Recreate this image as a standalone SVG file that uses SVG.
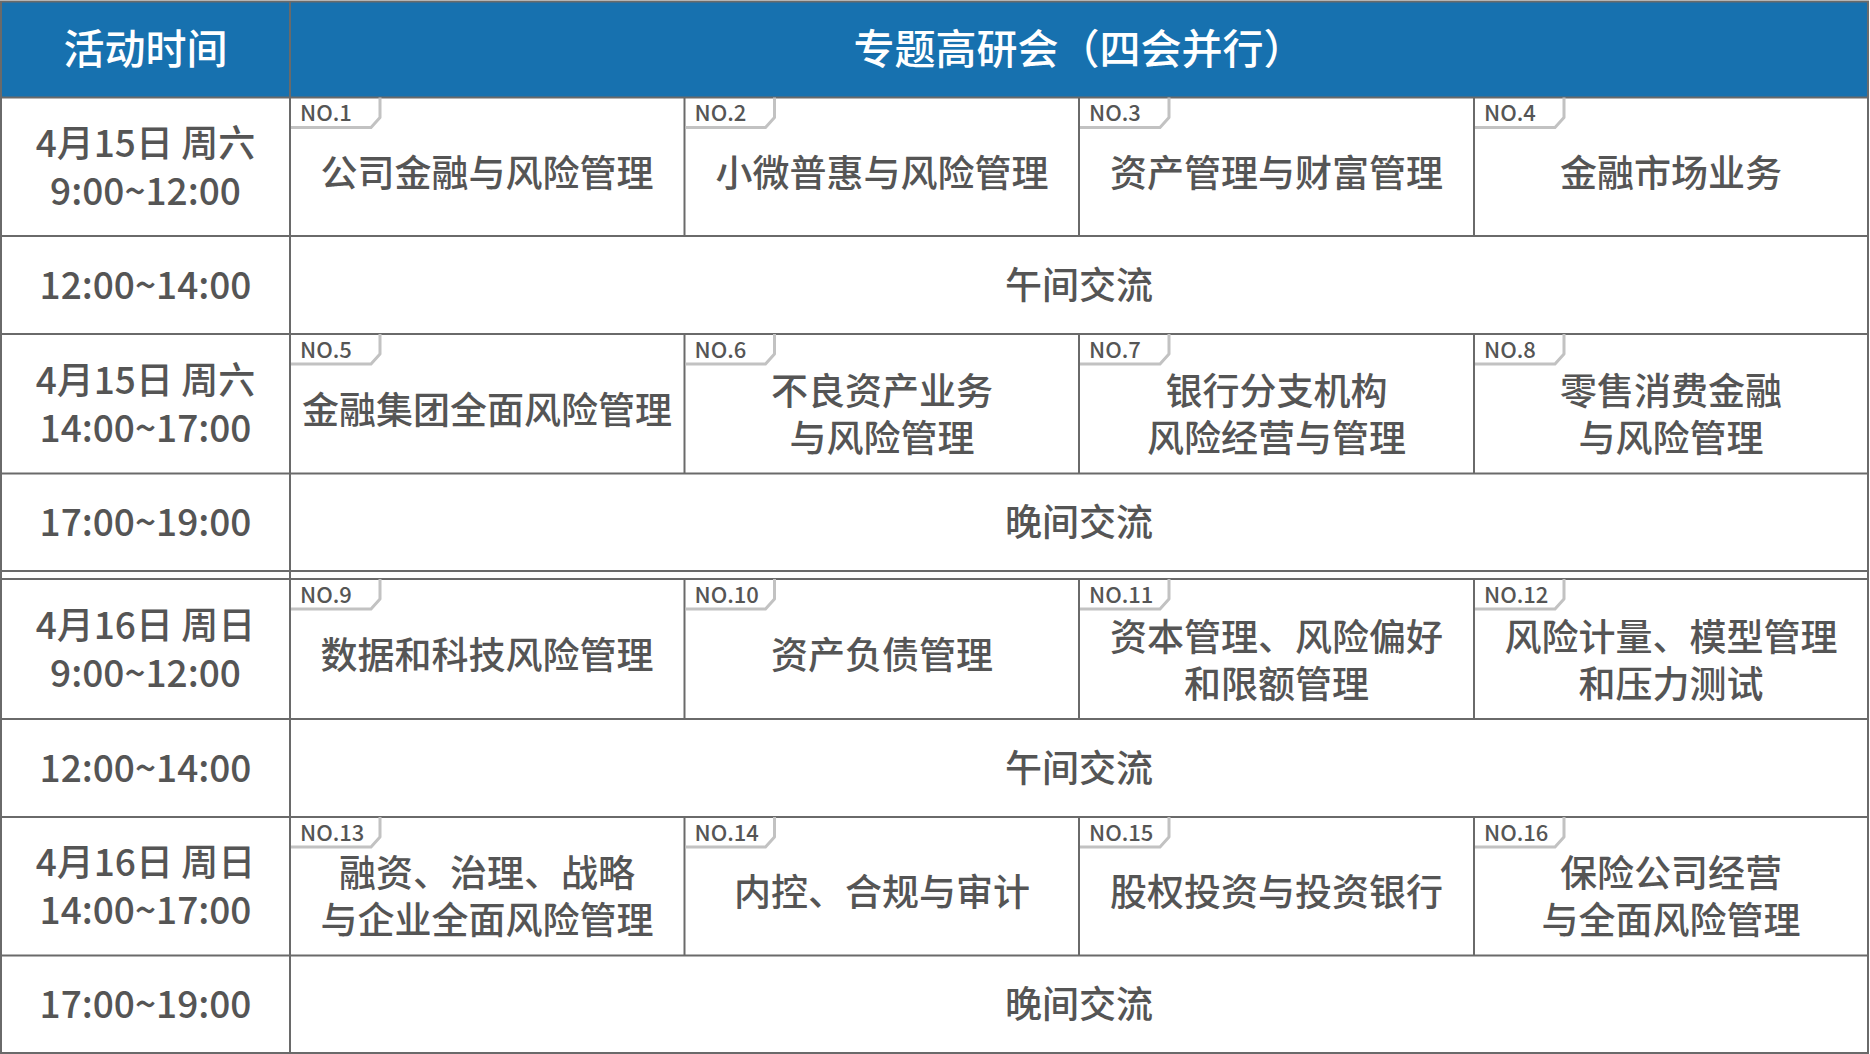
<svg xmlns="http://www.w3.org/2000/svg" xmlns:xlink="http://www.w3.org/1999/xlink" width="1870" height="1054" viewBox="0 0 1870 1054">
<style>
.hd{font-family:"Noto Sans CJK SC","Noto Sans",sans-serif;font-size:41px;font-weight:500;fill:#ffffff;text-anchor:middle}
.tm{font-family:"Noto Sans CJK SC","Noto Sans",sans-serif;font-size:37px;font-weight:500;fill:#555555;text-anchor:middle}
.ss{font-family:"Noto Sans CJK SC","Noto Sans",sans-serif;font-size:37px;font-weight:500;fill:#555555;text-anchor:middle}
.no{font-family:"Noto Sans CJK SC","Noto Sans",sans-serif;font-size:22px;font-weight:500;fill:#555555}
.ln{stroke:#6a6a6a;stroke-width:2;fill:none}
.sh{stroke:#c2c2c2;stroke-width:3;fill:none;stroke-linejoin:round}
</style>
<defs>
<filter id="blur" x="-10%" y="-10%" width="120%" height="140%"><feGaussianBlur stdDeviation="0.6"/></filter>
<g id="tab"><path class="sh" filter="url(#blur)" d="M90,0 V20 L81,30 H1"/></g>
</defs>
<rect x="0" y="0" width="1870" height="1054" fill="#ffffff"/>
<rect x="1" y="1" width="1867" height="96.5" fill="#1771af"/>

<g id="connectors">
<rect class="ln" x="1" y="1.5" width="1867" height="1051.5"/>
<line class="ln" x1="1" y1="97.5" x2="1868" y2="97.5"/>
<line class="ln" x1="1" y1="236" x2="1868" y2="236"/>
<line class="ln" x1="1" y1="334" x2="1868" y2="334"/>
<line class="ln" x1="1" y1="473.5" x2="1868" y2="473.5"/>
<line class="ln" x1="1" y1="571" x2="1868" y2="571"/>
<line class="ln" x1="1" y1="579" x2="1868" y2="579"/>
<line class="ln" x1="1" y1="719" x2="1868" y2="719"/>
<line class="ln" x1="1" y1="817" x2="1868" y2="817"/>
<line class="ln" x1="1" y1="955.5" x2="1868" y2="955.5"/>
<line class="ln" x1="290" y1="1" x2="290" y2="1053"/>
<line class="ln" x1="684.5" y1="97.5" x2="684.5" y2="236"/>
<line class="ln" x1="1079" y1="97.5" x2="1079" y2="236"/>
<line class="ln" x1="1474" y1="97.5" x2="1474" y2="236"/>
<line class="ln" x1="684.5" y1="334" x2="684.5" y2="473.5"/>
<line class="ln" x1="1079" y1="334" x2="1079" y2="473.5"/>
<line class="ln" x1="1474" y1="334" x2="1474" y2="473.5"/>
<line class="ln" x1="684.5" y1="579" x2="684.5" y2="719"/>
<line class="ln" x1="1079" y1="579" x2="1079" y2="719"/>
<line class="ln" x1="1474" y1="579" x2="1474" y2="719"/>
<line class="ln" x1="684.5" y1="817" x2="684.5" y2="955.5"/>
<line class="ln" x1="1079" y1="817" x2="1079" y2="955.5"/>
<line class="ln" x1="1474" y1="817" x2="1474" y2="955.5"/>
</g>

<g id="header">
<text class="hd" x="145.5" y="64">活动时间</text>
<text class="hd" x="1079" y="64">专题高研会（四会并行）</text>
</g>

<g id="times">
<text class="tm" x="145.5" y="157">4月15日 周六</text>
<text class="tm" x="145.5" y="205">9:00~12:00</text>
<text class="tm" x="145.5" y="299">12:00~14:00</text>
<text class="tm" x="145.5" y="394">4月15日 周六</text>
<text class="tm" x="145.5" y="442">14:00~17:00</text>
<text class="tm" x="145.5" y="536">17:00~19:00</text>
<text class="tm" x="145.5" y="639">4月16日 周日</text>
<text class="tm" x="145.5" y="687">9:00~12:00</text>
<text class="tm" x="145.5" y="782">12:00~14:00</text>
<text class="tm" x="145.5" y="876">4月16日 周日</text>
<text class="tm" x="145.5" y="924">14:00~17:00</text>
<text class="tm" x="145.5" y="1018">17:00~19:00</text>
</g>

<g id="breaks">
<text class="ss" x="1079" y="299">午间交流</text>
<text class="ss" x="1079" y="536">晚间交流</text>
<text class="ss" x="1079" y="782">午间交流</text>
<text class="ss" x="1079" y="1018">晚间交流</text>
</g>

<g id="s1"><use xlink:href="#tab" x="290" y="97.5"/><text class="no" x="300" y="121">NO.1</text><text class="ss" x="487" y="187">公司金融与风险管理</text></g>
<g id="s2"><use xlink:href="#tab" x="684.5" y="97.5"/><text class="no" x="694.5" y="121">NO.2</text><text class="ss" x="882" y="187">小微普惠与风险管理</text></g>
<g id="s3"><use xlink:href="#tab" x="1079" y="97.5"/><text class="no" x="1089" y="121">NO.3</text><text class="ss" x="1276.5" y="187">资产管理与财富管理</text></g>
<g id="s4"><use xlink:href="#tab" x="1474" y="97.5"/><text class="no" x="1484" y="121">NO.4</text><text class="ss" x="1671" y="187">金融市场业务</text></g>

<g id="s5"><use xlink:href="#tab" x="290" y="334"/><text class="no" x="300" y="357.5">NO.5</text><text class="ss" x="487" y="424">金融集团全面风险管理</text></g>
<g id="s6"><use xlink:href="#tab" x="684.5" y="334"/><text class="no" x="694.5" y="357.5">NO.6</text><text class="ss" x="882" y="405">不良资产业务</text><text class="ss" x="882" y="452">与风险管理</text></g>
<g id="s7"><use xlink:href="#tab" x="1079" y="334"/><text class="no" x="1089" y="357.5">NO.7</text><text class="ss" x="1276.5" y="405">银行分支机构</text><text class="ss" x="1276.5" y="452">风险经营与管理</text></g>
<g id="s8"><use xlink:href="#tab" x="1474" y="334"/><text class="no" x="1484" y="357.5">NO.8</text><text class="ss" x="1671" y="405">零售消费金融</text><text class="ss" x="1671" y="452">与风险管理</text></g>

<g id="s9"><use xlink:href="#tab" x="290" y="579"/><text class="no" x="300" y="602.5">NO.9</text><text class="ss" x="487" y="669">数据和科技风险管理</text></g>
<g id="s10"><use xlink:href="#tab" x="684.5" y="579"/><text class="no" x="694.5" y="602.5">NO.10</text><text class="ss" x="882" y="669">资产负债管理</text></g>
<g id="s11"><use xlink:href="#tab" x="1079" y="579"/><text class="no" x="1089" y="602.5">NO.11</text><text class="ss" x="1276.5" y="651">资本管理、风险偏好</text><text class="ss" x="1276.5" y="698">和限额管理</text></g>
<g id="s12"><use xlink:href="#tab" x="1474" y="579"/><text class="no" x="1484" y="602.5">NO.12</text><text class="ss" x="1671" y="651">风险计量、模型管理</text><text class="ss" x="1671" y="698">和压力测试</text></g>

<g id="s13"><use xlink:href="#tab" x="290" y="817"/><text class="no" x="300" y="840.5">NO.13</text><text class="ss" x="487" y="887">融资、治理、战略</text><text class="ss" x="487" y="934">与企业全面风险管理</text></g>
<g id="s14"><use xlink:href="#tab" x="684.5" y="817"/><text class="no" x="694.5" y="840.5">NO.14</text><text class="ss" x="882" y="906">内控、合规与审计</text></g>
<g id="s15"><use xlink:href="#tab" x="1079" y="817"/><text class="no" x="1089" y="840.5">NO.15</text><text class="ss" x="1276.5" y="906">股权投资与投资银行</text></g>
<g id="s16"><use xlink:href="#tab" x="1474" y="817"/><text class="no" x="1484" y="840.5">NO.16</text><text class="ss" x="1671" y="887">保险公司经营</text><text class="ss" x="1671" y="934">与全面风险管理</text></g>
</svg>
